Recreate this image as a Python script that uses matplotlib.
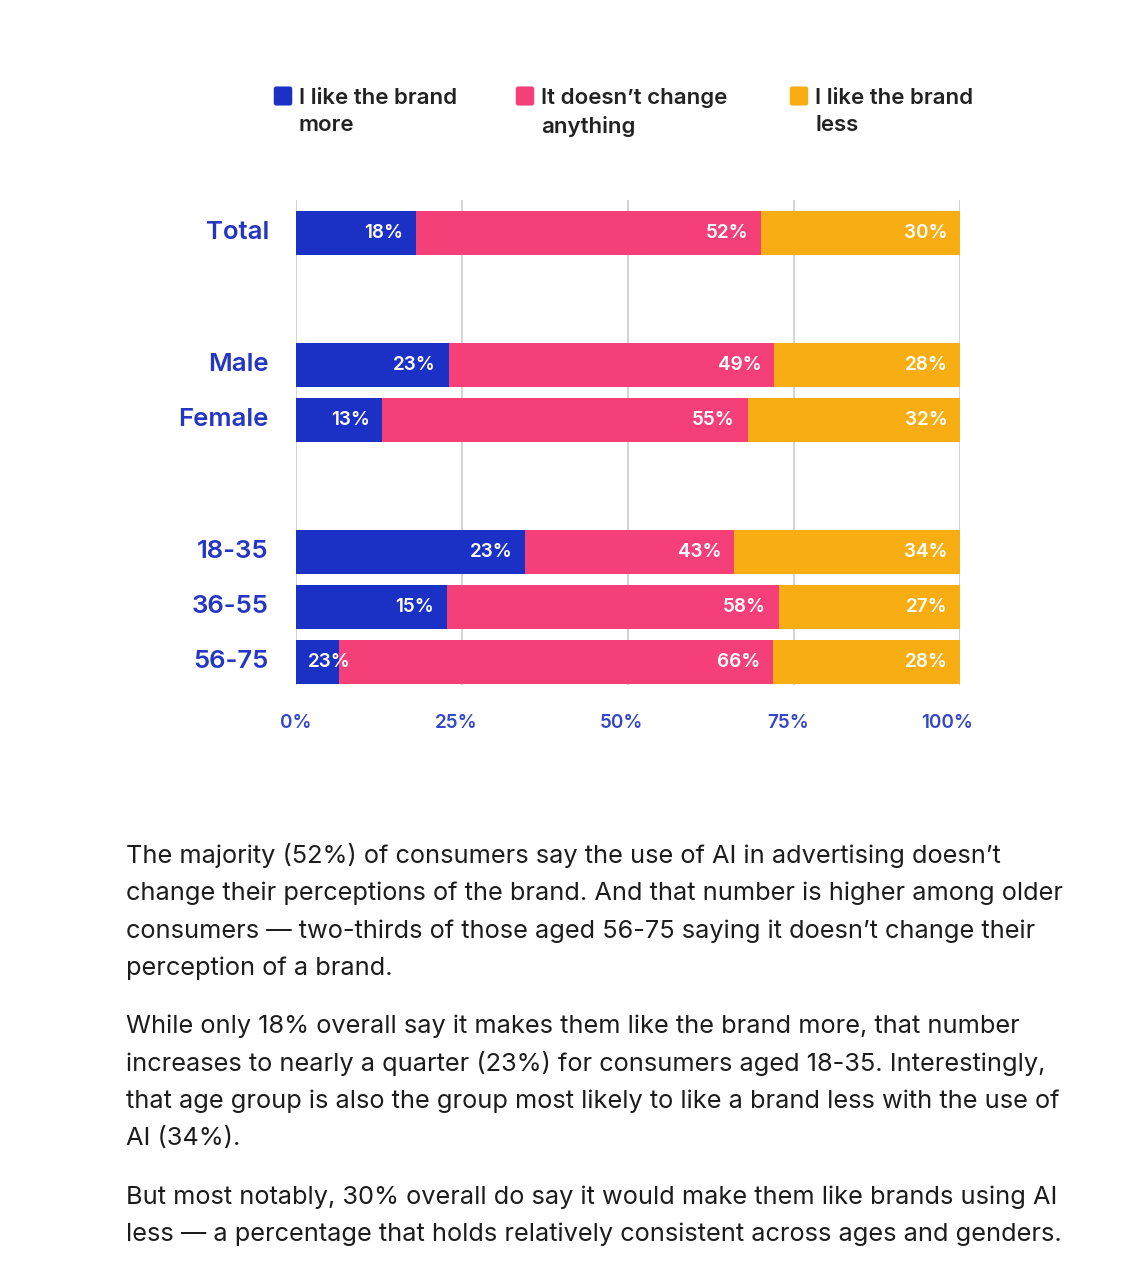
"""
Stacked bar chart: brand perception when AI is used in advertising.
"""

import matplotlib.pyplot as plt
from matplotlib.patches import FancyBboxPatch
from matplotlib.transforms import ScaledTranslation

categories = ['Total', 'Male', 'Female', '18-35', '36-55', '56-75']
series_names = ['I like the brand\nmore', 'It doesn\u2019t change\nanything', 'I like the brand\nless']

# bar lengths as drawn in the picture (%)
more = [18, 23, 13, 34.5, 22.7, 6.5]
same = [52, 49, 55, 31.5, 50, 65.3]
less = [30, 28, 32, 34, 27.3, 28.2]

# value labels as printed on the bars
more_lbl = ['18%', '23%', '13%', '23%', '15%', '23%']
same_lbl = ['52%', '49%', '55%', '43%', '58%', '66%']
less_lbl = ['30%', '28%', '32%', '34%', '27%', '28%']

ticks = [0, 25, 50, 75, 100]
tick_labels = ['0%', '25%', '50%', '75%', '100%']

paragraphs = [
    ['The majority (52%) of consumers say the use of AI in advertising doesn\u2019t',
     'change their perceptions of the brand. And that number is higher among older',
     'consumers \u2014 two-thirds of those aged 56-75 saying it doesn\u2019t change their',
     'perception of a brand.'],
    ['While only 18% overall say it makes them like the brand more, that number',
     'increases to nearly a quarter (23%) for consumers aged 18-35. Interestingly,',
     'that age group is also the group most likely to like a brand less with the use of',
     'AI (34%).'],
    ['But most notably, 30% overall do say it would make them like brands using AI',
     'less \u2014 a percentage that holds relatively consistent across ages and genders.'],
]

BLUE = '#1b31c6'
PINK = '#f43f79'
ORANGE = '#f8ae12'
LABEL_BLUE = '#2436c2'
TICK_BLUE = '#3446cc'
colors = [BLUE, PINK, ORANGE]
FONT = ['Inter', 'DejaVu Sans']

W, H = 1122, 1272
fig = plt.figure(figsize=(W / 100, H / 100), dpi=100)
fig.patch.set_facecolor('white')

# axes area in pixels: x 296..960, y 200..685
ax = fig.add_axes([296 / W, 1 - 685 / H, 664 / W, 485 / H])
ypos = [0, 2.4, 3.4, 5.8, 6.8, 7.8]

left = [0] * len(categories)
for vals, lbls, col in zip([more, same, less], [more_lbl, same_lbl, less_lbl], colors):
    ax.barh(ypos, vals, left=left, height=0.8, color=col, zorder=2)
    for y, l, v, t in zip(ypos, left, vals, lbls):
        ax.text(max(l + v - 1.9, 8.3), y, t, ha='right', va='center', color='white',
                fontsize=13.6, fontweight='semibold', family=FONT, zorder=3)
    left = [a + b for a, b in zip(left, vals)]

ax.set_xlim(0, 100)
ax.set_ylim(8.22, -0.6)
for t in ticks:
    ax.axvline(t, color='#d4d4d4', lw=1.4, zorder=1)
for s in ax.spines.values():
    s.set_visible(False)
ax.set_xticks(ticks)
ax.set_xticklabels(tick_labels, color=TICK_BLUE, fontsize=13.6, fontweight='semibold', family=FONT)
ax.tick_params(axis='x', length=0, pad=21)
ax.set_yticks([])
for lab, dx in zip(ax.get_xticklabels(), [0, -6, -7, -6, -13]):
    lab.set_transform(lab.get_transform() + ScaledTranslation(dx / 100, 0, fig.dpi_scale_trans))

for y, c in zip(ypos, categories):
    ax.text(-4.1, y, c, ha='right', va='center', color=LABEL_BLUE,
            fontsize=18.5, fontweight='semibold', family=FONT)

# legend
leg_x = [274, 516, 790]
for x, name, col in zip(leg_x, series_names, colors):
    fig.patches.append(FancyBboxPatch(((x + 2) / W, 1 - 103 / H), 14 / W, 14 / H,
                                      boxstyle='round,pad=0.002', fc=col, ec='none',
                                      transform=fig.transFigure))
    fig.text((x + 25) / W, 1 - 88 / H, name, ha='left', va='top', fontsize=16,
             color='#222222', linespacing=1.45, fontweight='semibold', family=FONT)

# paragraphs below the chart
line_y = [[856, 893, 931, 968], [1026, 1063, 1101, 1138], [1197, 1234]]
for lines, ys in zip(paragraphs, line_y):
    for txt, y in zip(lines, ys):
        fig.text(126 / W, 1 - y / H, txt, ha='left', va='center', fontsize=18.25,
                 color='#1c1c1c', family=FONT)

fig.savefig('out.png', dpi=100, facecolor='white')
